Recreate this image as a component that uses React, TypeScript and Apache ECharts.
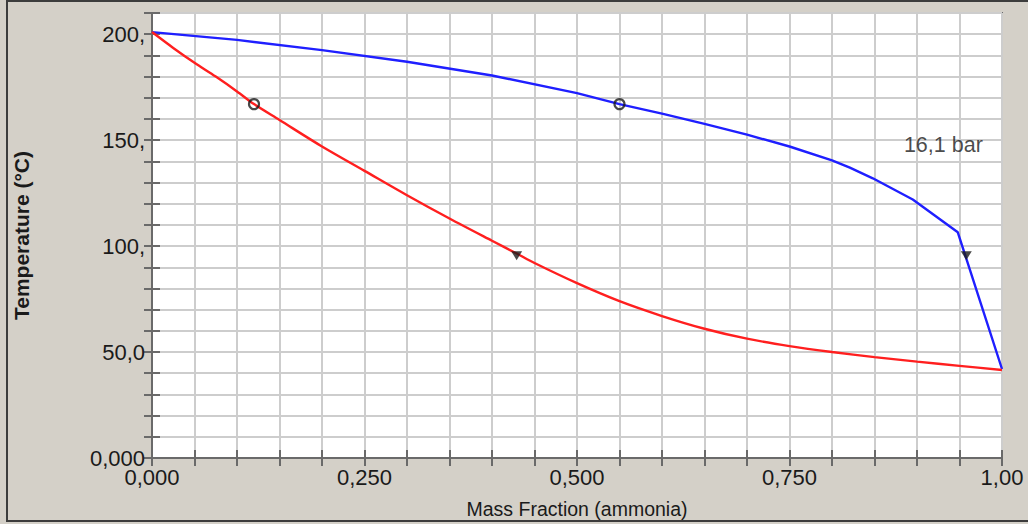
import React, { useEffect, useRef } from "react";
import * as echarts from "echarts";

const xTickLabels = ["0,000", "0,250", "0,500", "0,750", "1,00"];
const yTickLabels = ["0,000", "50,0", "100,", "150,", "200,"];

// Dew line (vapour) – blue
const dewX = [0, 0.1, 0.2, 0.3, 0.4, 0.5, 0.55, 0.6, 0.65, 0.7, 0.75, 0.8, 0.821, 0.848, 0.895, 0.948, 1.0];
const dewT = [201, 197.3, 192.5, 187, 180.5, 172.2, 167, 162.5, 157.7, 152.6, 147, 140.5, 137, 132, 122, 106.5, 42];

// Bubble line (liquid) – red
const bubX = [0, 0.025, 0.05, 0.075, 0.1, 0.12, 0.15, 0.2, 0.25, 0.3, 0.35, 0.4, 0.429, 0.45, 0.5, 0.55, 0.6, 0.65, 0.7, 0.75, 0.8, 0.85, 0.9, 0.95, 1.0];
const bubT = [201, 193.5, 186.5, 180, 173, 167, 159.5, 147, 135.5, 124, 113, 102.5, 96.5, 92, 82.5, 74, 67, 61, 56.3, 52.8, 50, 47.6, 45.5, 43.5, 41.5];

// State point markers
const circleX = [0.12, 0.55];
const circleT = [167, 167];
const triX = [0.429, 0.958];
const triT = [95.5, 95.5];

const pressureLabel = "16,1 bar";
const pressureX = 0.931;
const pressureT = 147.8;

const xTitle = "Mass Fraction (ammonia)";
const yTitle = "Temperature (°C)";

const sans = "'Liberation Sans', Arial, sans-serif";
const textColor = "#1a1a1a";
const gridColor = "#cdcdcd";
const frameColor = "#6a6a6a";

function xLabel(v: number): string {
  const h = Math.round(v * 100);
  if (h % 25 !== 0) return "";
  return xTickLabels[Math.round(h / 25)] ?? "";
}
function yLabel(v: number): string {
  const r = Math.round(v);
  if (r % 50 !== 0) return "";
  return yTickLabels[r / 50] ?? "";
}

export default function App() {
  const ref = useRef<HTMLDivElement>(null);
  useEffect(() => {
    document.body.style.margin = "0";
    if (!ref.current) return;
    const chart = echarts.init(ref.current, undefined, { renderer: "svg" });
    const zip = (xs: number[], ys: number[]) => xs.map((x, i) => [x, ys[i]]);
    const tick = { show: true, inside: true, length: 8, lineStyle: { color: frameColor, width: 2 } };
    const axLine = { show: true, lineStyle: { color: frameColor, width: 2 } };
    chart.setOption({
      animation: false,
      backgroundColor: "#d4d0c8",
      graphic: [
        {
          type: "rect",
          shape: { x: 7, y: 1, width: 1040, height: 520 },
          style: { fill: "transparent", stroke: "#3c3c3c", lineWidth: 2 },
          silent: true,
        },
      ],
      grid: {
        left: 152,
        right: 26,
        top: 13,
        bottom: 66,
        show: true,
        backgroundColor: "#ffffff",
        borderColor: frameColor,
        borderWidth: 2,
      },
      xAxis: [
        {
          type: "value",
          min: 0,
          max: 1,
          interval: 0.05,
          position: "bottom",
          axisLine: axLine,
          axisTick: tick,
          splitLine: { show: true, lineStyle: { color: gridColor, width: 2 } },
          axisLabel: {
            formatter: xLabel,
            color: textColor,
            fontFamily: sans,
            fontSize: 22,
            lineHeight: 20,
            margin: 9,
            showMinLabel: true,
            showMaxLabel: true,
          },
          name: xTitle,
          nameLocation: "middle",
          nameGap: 41,
          nameTextStyle: { color: textColor, fontFamily: sans, fontSize: 19.5, lineHeight: 19 },
        },
        {
          type: "value",
          min: 0,
          max: 1,
          interval: 0.05,
          position: "top",
          axisLine: axLine,
          axisTick: tick,
          splitLine: { show: false },
          axisLabel: { show: false },
        },
      ],
      yAxis: [
        {
          type: "value",
          min: 0,
          max: 210,
          interval: 10,
          position: "left",
          axisLine: axLine,
          axisTick: tick,
          splitLine: { show: true, lineStyle: { color: gridColor, width: 2 } },
          axisLabel: {
            formatter: yLabel,
            color: textColor,
            fontFamily: sans,
            fontSize: 22,
            lineHeight: 18,
            margin: 7,
            showMinLabel: true,
            showMaxLabel: true,
          },
          name: yTitle,
          nameLocation: "middle",
          nameGap: 120,
          nameRotate: 90,
          nameTextStyle: {
            color: textColor,
            fontFamily: sans,
            fontWeight: "bold",
            fontSize: 21,
          },
        },
        {
          type: "value",
          min: 0,
          max: 210,
          interval: 10,
          position: "right",
          axisLine: axLine,
          axisTick: tick,
          splitLine: { show: false },
          axisLabel: { show: false },
        },
      ],
      series: [
        {
          type: "line",
          name: "Dew line",
          data: zip(dewX, dewT),
          showSymbol: false,
          symbol: "none",
          lineStyle: { color: "#1f1fff", width: 2.4 },
          z: 3,
        },
        {
          type: "line",
          name: "Bubble line",
          data: zip(bubX, bubT),
          showSymbol: false,
          symbol: "none",
          smooth: 0.3,
          lineStyle: { color: "#ff1f1f", width: 2.4 },
          z: 3,
        },
        {
          type: "scatter",
          name: "Saturated",
          data: zip(circleX, circleT),
          symbol: "circle",
          symbolSize: 10,
          itemStyle: { color: "rgba(0,0,0,0)", borderColor: "#1a1a1a", borderWidth: 2.2 },
          z: 5,
        },
        {
          type: "scatter",
          name: "State",
          data: zip(triX, triT),
          symbol: "triangle",
          symbolRotate: 180,
          symbolSize: [11, 9],
          itemStyle: { color: "#1a1a1a" },
          z: 5,
        },
        {
          type: "scatter",
          name: "Pressure",
          data: [[pressureX, pressureT]],
          symbolSize: 0,
          silent: true,
          label: {
            show: true,
            position: "inside",
            formatter: pressureLabel,
            color: textColor,
            fontFamily: sans,
            fontSize: 21.5,
          },
          z: 6,
        },
      ],
    });
    return () => chart.dispose();
  }, []);
  return <div ref={ref} style={{ width: 1028, height: 524 }} />;
}
